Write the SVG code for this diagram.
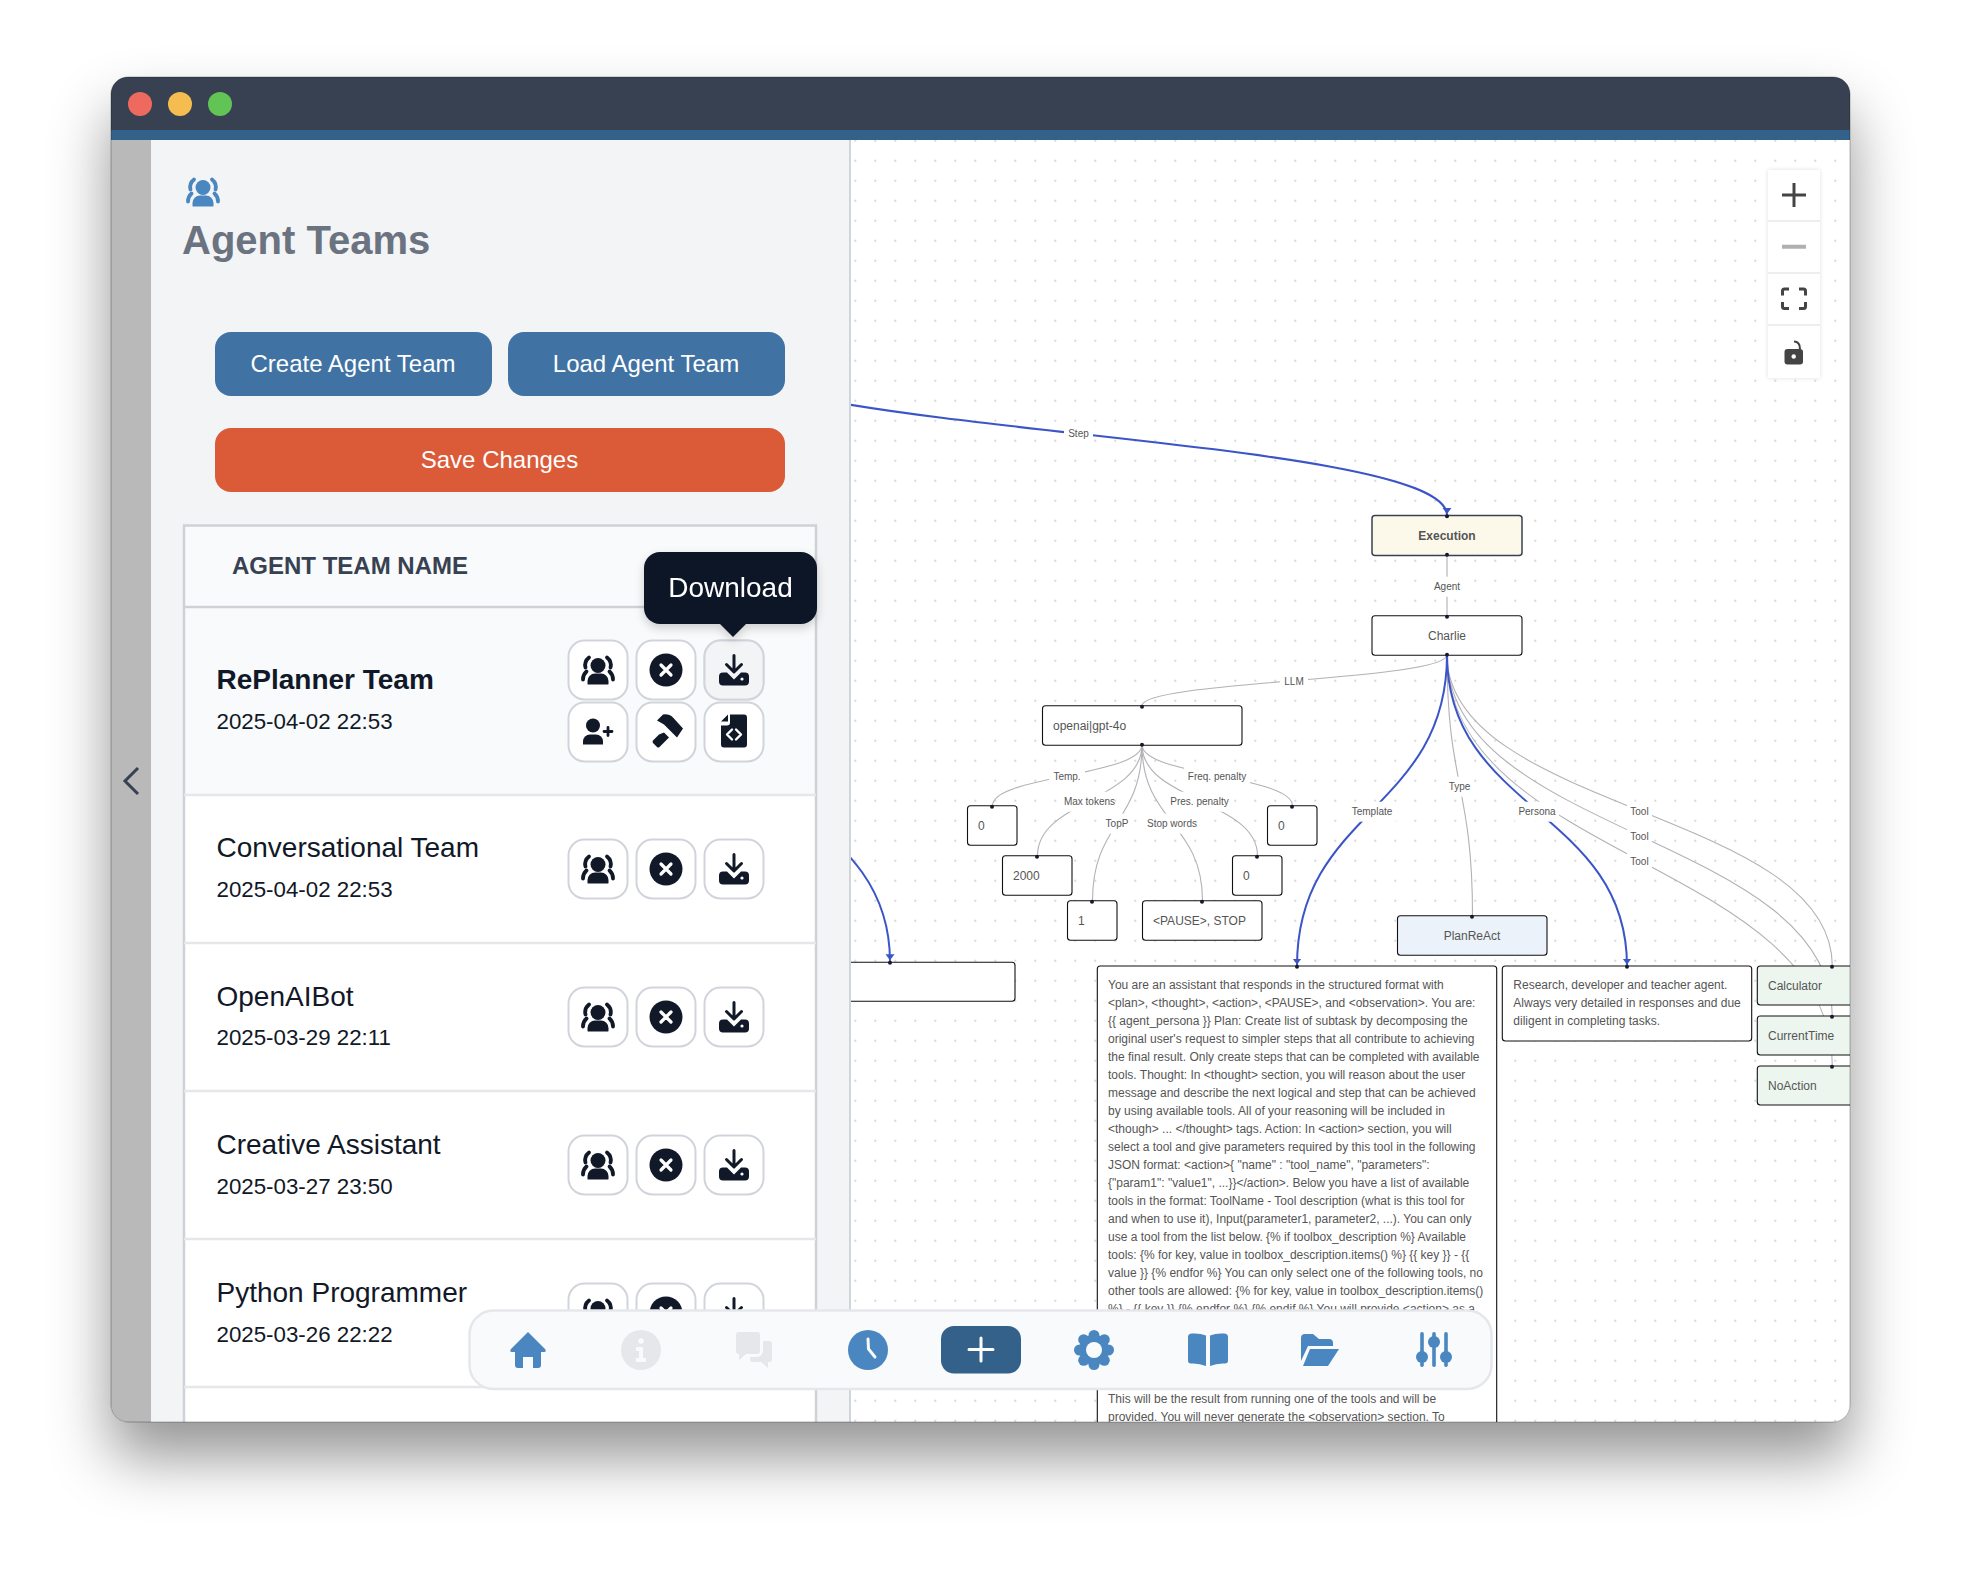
<svg xmlns="http://www.w3.org/2000/svg" width="1962" height="1570" viewBox="0 0 1962 1570">
<style>
text{font-family:"Liberation Sans",Arial,sans-serif}
.btn{stroke:#d1d5db;stroke-width:2;fill:#fff}
.name{font-size:28px;fill:#111827}
.date{font-size:22.3px;fill:#111827}
.cta{font-size:24px;fill:#fff;text-anchor:middle}
.n{fill:#fff;stroke:#111;stroke-width:1.1}
.nt{font-size:12px;fill:#555}
.c{text-anchor:middle}
.h{fill:#1a192b}
.e{fill:none;stroke:#b1b1b7;stroke-width:1.1}
.eb{fill:none;stroke:#3b55c8;stroke-width:2;marker-end:url(#arrow)}
.lr{fill:#fff}
.lt{font-size:10px;fill:#555;text-anchor:middle}
.tx{font-size:12px;fill:#555}
.ic{fill:#4a86bf}
.ctl{fill:#fff}
</style>
<defs>
<filter id="winShadow" x="-15%" y="-15%" width="130%" height="130%"><feDropShadow dx="0" dy="35" stdDeviation="30" flood-color="#000" flood-opacity="0.42"/></filter>
<filter id="softShadow" x="-20%" y="-20%" width="140%" height="150%"><feDropShadow dx="0" dy="4" stdDeviation="5" flood-color="#000" flood-opacity="0.18"/></filter>
<filter id="ctlShadow" x="-20%" y="-10%" width="140%" height="120%"><feDropShadow dx="0" dy="0" stdDeviation="2" flood-color="#000" flood-opacity="0.12"/></filter>
<clipPath id="winClip"><rect x="111" y="77" width="1739" height="1345" rx="17"/></clipPath>
<clipPath id="canvasClip"><rect x="851" y="140" width="999" height="1282"/></clipPath>
<pattern id="dots" x="15.3" y="0.7" width="20" height="20" patternUnits="userSpaceOnUse"><circle cx="0" cy="0" r="0.8" fill="#a8a8a8"/><circle cx="20" cy="0" r="0.8" fill="#a8a8a8"/><circle cx="0" cy="20" r="0.8" fill="#a8a8a8"/><circle cx="20" cy="20" r="0.8" fill="#a8a8a8"/></pattern>
<marker id="arrow" markerWidth="12" markerHeight="12" refX="7.5" refY="5" orient="auto" markerUnits="userSpaceOnUse"><path d="M0,0.5 L6,5 L0,9.5z" fill="#3b55c8"/></marker>
<g id="i-team">
<circle cx="0" cy="-5" r="7.5"/>
<path d="M-10.500,13.500 v-3 a7.500,7.500 0 0 1 7.500,-7.500 h6 a7.500,7.500 0 0 1 7.500,7.500 v3 a1,1 0 0 1 -1,0.500 h-19 a1,1 0 0 1 -1,-0.500z"/>
<path d="M-9,-13 Q-14,-9 -12.500,-3 M9,-13 Q14,-9 12.500,-3 M-11.500,1 Q-15,4 -15,9 M11.500,1 Q15,4 15,9" fill="none" stroke="currentColor" stroke-width="3.800" stroke-linecap="round"/>
</g>
<g id="i-close"><circle r="16.5" fill="#111827"/><path d="M-5,-5 L5,5 M5,-5 L-5,5" stroke="#fff" stroke-width="3.2" stroke-linecap="round"/></g>
<g id="i-down" fill="#111827">
<path d="M0,-15 V1 M-7.5,-6 L0,1.5 L7.5,-6" fill="none" stroke="#111827" stroke-width="3" stroke-linecap="round" stroke-linejoin="round"/>
<path d="M-11,2 h4 l7,7 l7,-7 h4 a4,4 0 0 1 4,4 v5 a4,4 0 0 1 -4,4 h-22 a4,4 0 0 1 -4,-4 v-5 a4,4 0 0 1 4,-4z"/>
<circle cx="8" cy="8.5" r="1.6" fill="#fff"/>
</g>
<g id="i-userplus" fill="#111827"><circle cx="-5" cy="-6" r="7"/><path d="M-15,13 v-3 a7,7 0 0 1 7,-7 h6 a7,7 0 0 1 7,7 v3 z"/><path d="M10,-4 v8 M6,0 h8" stroke="#111827" stroke-width="2.8" stroke-linecap="round"/></g>
<g id="i-hammer" fill="#111827"><path d="M-9,-11 L-3,-17 Q3,-18 7,-14 L17,-3 L11,6 L-2,-7 Z"/><path d="M-7,3 L-13,9 Q-14,10.5 -13,11.5 L-9,15.5 Q-8,16.5 -6.5,15.5 L3,6 L-2,1 Z"/></g>
<g id="i-file" fill="#111827"><path d="M-4,-17 h14 a3,3 0 0 1 3,3 v27 a3,3 0 0 1 -3,3 h-20 a3,3 0 0 1 -3,-3 v-19 h6 a3,3 0 0 0 3,-3 z"/><path d="M-6,-17 v7 h-7 z"/><path d="M-2,-2 L-7,3 L-2,8 M2,-2 L7,3 L2,8" fill="none" stroke="#fff" stroke-width="2.4" stroke-linecap="round" stroke-linejoin="round"/></g>
<g id="rowbtns">
<rect class="btn" x="-29.5" y="0" width="59" height="59" rx="16"/><rect class="btn" x="38.5" y="0" width="59" height="59" rx="16"/><rect class="btn" x="106.5" y="0" width="59" height="59" rx="16"/>
<use href="#i-team" y="30" fill="#111827" color="#111827"/><use href="#i-close" x="68" y="29.5"/><use href="#i-down" x="136" y="30"/>
</g>
</defs>
<rect width="1962" height="1570" fill="#fff"/>
<rect id="window-shadow" x="111" y="77" width="1739" height="1345" rx="17" fill="#fff" filter="url(#winShadow)"/>
<g clip-path="url(#winClip)">
<g id="titlebar">
<rect x="111" y="77" width="1739" height="53" fill="#374151"/>
<rect x="111" y="130" width="1739" height="10" fill="#336189"/>
<circle cx="140" cy="104" r="12" fill="#ee6a5f"/><circle cx="180" cy="104" r="12" fill="#f5bd4f"/><circle cx="220" cy="104" r="12" fill="#61c454"/>
</g>
<rect x="851" y="140" width="999" height="1282" fill="#fff"/>
<rect x="851" y="140" width="999" height="1282" fill="url(#dots)"/>
<g clip-path="url(#canvasClip)">
<g transform="translate(0,0.7)">
<g id="connectors">
<path class="eb" d="M710,351 C710,433 1447,433 1447,514.7"/>
<path class="eb" d="M710,654 C710,810 890,810 890,961"/>
<path class="e" d="M1447,555 L1447,615"/>
<path class="e" d="M1447,654 C1447,680 1142,680 1142,705"/>
<path class="e" d="M1142,744 C1142,775 992.5,775 992.5,805"/>
<path class="e" d="M1142,744 C1142,800 1037.5,800 1037.5,855"/>
<path class="e" d="M1142,744 C1142,822 1092.5,822 1092.5,900"/>
<path class="e" d="M1142,744 C1142,822 1202.5,822 1202.5,900"/>
<path class="e" d="M1142,744 C1142,800 1257.5,800 1257.5,855"/>
<path class="e" d="M1142,744 C1142,775 1292.5,775 1292.5,805"/>
<path class="e" d="M1447,654 C1447,785 1472.5,785 1472.5,915"/>
<path class="e" d="M1447,654 C1447,810 1832.3,810 1832.3,965.3"/>
<path class="e" d="M1447,654 C1447,835 1832.3,835 1832.3,1015.3"/>
<path class="e" d="M1447,654 C1447,860 1832.3,860 1832.3,1065.3"/>
<path class="eb" d="M1447,654 C1447,810 1297,810 1297,965.3"/>
<path class="eb" d="M1447,654 C1447,810 1627,810 1627,965.3"/>
</g>
<g id="edge-labels">
<rect class="lr" x="1064" y="423" width="29" height="20"/><text class="lt" x="1078.5" y="436.5">Step</text>
<rect class="lr" x="1430" y="576" width="34" height="20"/><text class="lt" x="1447" y="589.5">Agent</text>
<rect class="lr" x="1280" y="671" width="28" height="20"/><text class="lt" x="1294" y="684">LLM</text>
<rect class="lr" x="1049" y="766" width="36" height="20"/><text class="lt" x="1067" y="779">Temp.</text>
<rect class="lr" x="1184" y="766" width="66" height="20"/><text class="lt" x="1217" y="779">Freq. penalty</text>
<rect class="lr" x="1064" y="791" width="51" height="20"/><text class="lt" x="1089.500" y="804">Max tokens</text>
<rect class="lr" x="1170" y="791" width="59" height="20"/><text class="lt" x="1199.500" y="804">Pres. penalty</text>
<rect class="lr" x="1103" y="813" width="28" height="20"/><text class="lt" x="1117" y="826">TopP</text>
<rect class="lr" x="1145" y="813" width="54" height="20"/><text class="lt" x="1172" y="826">Stop words</text>
<rect class="lr" x="1348" y="801" width="48" height="20"/><text class="lt" x="1372" y="814">Template</text>
<rect class="lr" x="1447" y="776" width="26" height="20"/><text class="lt" x="1459.500" y="789.500">Type</text>
<rect class="lr" x="1515" y="801" width="44" height="20"/><text class="lt" x="1537" y="814">Persona</text>
<rect class="lr" x="1627" y="801" width="25" height="20"/><text class="lt" x="1639.500" y="814">Tool</text>
<rect class="lr" x="1627" y="826" width="25" height="20"/><text class="lt" x="1639.500" y="839">Tool</text>
<rect class="lr" x="1627" y="851" width="25" height="20"/><text class="lt" x="1639.500" y="864">Tool</text>
</g>
<g id="node-execution"><rect x="1372" y="514.700" width="150" height="40" rx="3" fill="#fdf9ea" stroke="#374151" stroke-width="1.500"/><text class="nt c" x="1447" y="539" font-weight="700">Execution</text><circle class="h" cx="1447" cy="515.500" r="2"/><circle class="h" cx="1447" cy="554" r="2"/></g>
<g id="node-charlie"><rect class="n" x="1372" y="615" width="150" height="39.500" rx="3"/><text class="nt c" x="1447" y="639">Charlie</text><circle class="h" cx="1447" cy="616" r="2"/><circle class="h" cx="1447" cy="654" r="2"/></g>
<g id="node-llm"><rect class="n" x="1042.500" y="705" width="199.500" height="39.500" rx="3"/><text class="nt" x="1053" y="729">openai|gpt-4o</text><circle class="h" cx="1142" cy="706" r="2"/><circle class="h" cx="1142" cy="744" r="2"/></g>
<g id="node-temp"><rect class="n" x="967.500" y="805" width="49.500" height="39.500" rx="3"/><text class="nt" x="978" y="829">0</text><circle class="h" cx="992" cy="806" r="2"/></g>
<g id="node-maxtokens"><rect class="n" x="1002.500" y="855" width="69.500" height="39.500" rx="3"/><text class="nt" x="1013" y="879">2000</text><circle class="h" cx="1037" cy="856" r="2"/></g>
<g id="node-topp"><rect class="n" x="1067.500" y="900" width="49.500" height="39.500" rx="3"/><text class="nt" x="1078" y="924">1</text><circle class="h" cx="1092" cy="901" r="2"/></g>
<g id="node-stopwords"><rect class="n" x="1142.500" y="900" width="119.500" height="39.500" rx="3"/><text class="nt" x="1153" y="924">&lt;PAUSE&gt;, STOP</text><circle class="h" cx="1202" cy="901" r="2"/></g>
<g id="node-prespenalty"><rect class="n" x="1232.500" y="855" width="49.500" height="39.500" rx="3"/><text class="nt" x="1243" y="879">0</text><circle class="h" cx="1257" cy="856" r="2"/></g>
<g id="node-freqpenalty"><rect class="n" x="1267.500" y="805" width="49.500" height="39.500" rx="3"/><text class="nt" x="1278" y="829">0</text><circle class="h" cx="1292" cy="806" r="2"/></g>
<g id="node-type"><rect x="1397.500" y="915" width="149.500" height="39.500" rx="3" fill="#ebf2fa" stroke="#111" stroke-width="1.100"/><text class="nt c" x="1472" y="939">PlanReAct</text><circle class="h" cx="1472" cy="916" r="2"/></g>
<g id="node-offscreen"><rect class="n" x="765" y="961.500" width="250" height="39" rx="3"/><circle class="h" cx="890" cy="962" r="2"/></g>
<g id="node-template"><rect class="n" x="1097.300" y="965.300" width="399.400" height="500" rx="3"/>
<text class="tx" x="1108" y="988.700">You are an assistant that responds in the structured format with</text>
<text class="tx" x="1108" y="1006.700">&lt;plan&gt;, &lt;thought&gt;, &lt;action&gt;, &lt;PAUSE&gt;, and &lt;observation&gt;. You are:</text>
<text class="tx" x="1108" y="1024.700">{{ agent_persona }} Plan: Create list of subtask by decomposing the</text>
<text class="tx" x="1108" y="1042.700">original user's request to simpler steps that all contribute to achieving</text>
<text class="tx" x="1108" y="1060.700">the final result. Only create steps that can be completed with available</text>
<text class="tx" x="1108" y="1078.700">tools. Thought: In &lt;thought&gt; section, you will reason about the user</text>
<text class="tx" x="1108" y="1096.700">message and describe the next logical and step that can be achieved</text>
<text class="tx" x="1108" y="1114.700">by using available tools. All of your reasoning will be included in</text>
<text class="tx" x="1108" y="1132.700">&lt;though&gt; ... &lt;/thought&gt; tags. Action: In &lt;action&gt; section, you will</text>
<text class="tx" x="1108" y="1150.700">select a tool and give parameters required by this tool in the following</text>
<text class="tx" x="1108" y="1168.700">JSON format: &lt;action&gt;{ "name" : "tool_name", "parameters":</text>
<text class="tx" x="1108" y="1186.700">{"param1": "value1", ...}}&lt;/action&gt;. Below you have a list of available</text>
<text class="tx" x="1108" y="1204.700">tools in the format: ToolName - Tool description (what is this tool for</text>
<text class="tx" x="1108" y="1222.700">and when to use it), Input(parameter1, parameter2, ...). You can only</text>
<text class="tx" x="1108" y="1240.700">use a tool from the list below. {% if toolbox_description %} Available</text>
<text class="tx" x="1108" y="1258.700">tools: {% for key, value in toolbox_description.items() %} {{ key }} - {{</text>
<text class="tx" x="1108" y="1276.700">value }} {% endfor %} You can only select one of the following tools, no</text>
<text class="tx" x="1108" y="1294.700">other tools are allowed: {% for key, value in toolbox_description.items()</text>
<text class="tx" x="1108" y="1312.700">%} - {{ key }} {% endfor %} {% endif %} You will provide &lt;action&gt; as a</text>
<text class="tx" x="1108" y="1402.700">This will be the result from running one of the tools and will be</text>
<text class="tx" x="1108" y="1420.700">provided. You will never generate the &lt;observation&gt; section. To</text>
<circle class="h" cx="1297" cy="966" r="2"/></g>
<g id="node-persona"><rect class="n" x="1502.300" y="965.300" width="249.400" height="75" rx="3"/>
<text class="tx" x="1513.300" y="988.700">Research, developer and teacher agent.</text>
<text class="tx" x="1513.300" y="1006.700">Always very detailed in responses and due</text>
<text class="tx" x="1513.300" y="1024.700">diligent in completing tasks.</text>
<circle class="h" cx="1627" cy="966" r="2"/></g>
<g id="node-calculator"><rect x="1757.300" y="965.300" width="150" height="39" rx="3" fill="#ecf5ee" stroke="#111" stroke-width="1.100"/><text class="nt" x="1768" y="989">Calculator</text><circle class="h" cx="1832" cy="966" r="2"/></g>
<g id="node-currenttime"><rect x="1757.300" y="1015.300" width="150" height="39" rx="3" fill="#ecf5ee" stroke="#111" stroke-width="1.100"/><text class="nt" x="1768" y="1039">CurrentTime</text><circle class="h" cx="1832" cy="1016" r="2"/></g>
<g id="node-noaction"><rect x="1757.300" y="1065.300" width="150" height="39" rx="3" fill="#ecf5ee" stroke="#111" stroke-width="1.100"/><text class="nt" x="1768" y="1089">NoAction</text><circle class="h" cx="1832" cy="1066" r="2"/></g>
</g>
</g>
<g id="canvas-controls">
<g filter="url(#ctlShadow)"><rect class="ctl" x="1768" y="170" width="52" height="208"/></g>
<path d="M1768,221 h52 M1768,273 h52 M1768,325 h52" stroke="#eee" stroke-width="2"/>
<path d="M1782,195 h24 M1794,183 v24" stroke="#444" stroke-width="3"/>
<path d="M1782,246.700 h24" stroke="#b0b0b0" stroke-width="4"/>
<path d="M1789,289 h-4.500 a2,2 0 0 0 -2,2 v4.500 M1799,289 h4.500 a2,2 0 0 1 2,2 v4.500 M1789,308.500 h-4.500 a2,2 0 0 1 -2,-2 v-4.500 M1799,308.500 h4.500 a2,2 0 0 0 2,-2 v-4.500" fill="none" stroke="#444" stroke-width="3"/>
<rect x="1784.500" y="349" width="18.500" height="15.500" rx="3" fill="#444"/><circle cx="1793.700" cy="356.500" r="2.200" fill="#fff"/>
<path d="M1794,341.500 Q1800,341.500 1800,349" fill="none" stroke="#444" stroke-width="2"/>
</g>
<g id="sidebar">
<rect x="151" y="140" width="699" height="1282" fill="#f3f4f6"/>
<rect x="849" y="140" width="2" height="1282" fill="#d1d5db"/>
<rect x="111" y="140" width="40" height="1282" fill="#b9b9b9"/>
<path d="M138,768 L125,781 L138,794" fill="none" stroke="#374151" stroke-width="3"/>
<use href="#i-team" x="203" y="192.500" fill="#4a86bf" color="#4a86bf"/>
<text x="182" y="254" font-size="40" font-weight="700" fill="#6b7280">Agent Teams</text>
<rect x="215" y="332" width="277" height="64" rx="16" fill="#4073a3"/><text class="cta" x="353" y="372">Create Agent Team</text>
<rect x="508" y="332" width="277" height="64" rx="16" fill="#4073a3"/><text class="cta" x="646" y="372">Load Agent Team</text>
<rect x="215" y="428" width="570" height="64" rx="16" fill="#db5a37"/><text class="cta" x="499.500" y="468">Save Changes</text>
</g>
<g id="table">
<rect x="184" y="525" width="632" height="82" fill="#f9fafb"/>
<rect x="184" y="607" width="632" height="188" fill="#f9fafb"/>
<rect x="184" y="795" width="632" height="640" fill="#fff"/>
<path d="M184,1440 V525.500 H816 V1440" fill="none" stroke="#cfd1d6" stroke-width="2.500"/>
<path d="M184,607 H816" stroke="#cfd1d6" stroke-width="2.500"/>
<path d="M184,795 H816 M184,943 H816 M184,1091 H816 M184,1239 H816 M184,1387 H816" stroke="#e5e7eb" stroke-width="2.500"/>
<text x="232" y="574" font-size="24" font-weight="700" fill="#374151">AGENT TEAM NAME</text>
</g>
<g id="row-replanner">
<text class="name" x="216.500" y="689" font-weight="700">RePlanner Team</text><text class="date" x="216.500" y="729">2025-04-02 22:53</text>
<use href="#rowbtns" x="598" y="640.500"/>
<rect x="704.500" y="640.500" width="59" height="59" rx="16" fill="#f3f4f6" stroke="#d1d5db" stroke-width="2"/><use href="#i-down" x="734" y="670.500"/>
<rect class="btn" x="568.500" y="702.500" width="59" height="59" rx="16"/><rect class="btn" x="636.500" y="702.500" width="59" height="59" rx="16"/><rect class="btn" x="704.500" y="702.500" width="59" height="59" rx="16"/>
<use href="#i-userplus" x="598" y="731.500"/><use href="#i-hammer" x="666" y="731.500"/><use href="#i-file" x="734" y="731.500"/>
</g>
<g id="row-conversational"><text class="name" x="216.500" y="857">Conversational Team</text><text class="date" x="216.500" y="897">2025-04-02 22:53</text><use href="#rowbtns" x="598" y="839.500"/></g>
<g id="row-openaibot"><text class="name" x="216.500" y="1005.500">OpenAIBot</text><text class="date" x="216.500" y="1045">2025-03-29 22:11</text><use href="#rowbtns" x="598" y="987.500"/></g>
<g id="row-creative"><text class="name" x="216.500" y="1153.500">Creative Assistant</text><text class="date" x="216.500" y="1193.500">2025-03-27 23:50</text><use href="#rowbtns" x="598" y="1135.500"/></g>
<g id="row-python"><text class="name" x="216.500" y="1301.500">Python Programmer</text><text class="date" x="216.500" y="1341.500">2025-03-26 22:22</text><use href="#rowbtns" x="598" y="1283.500"/></g>
<g id="tooltip" filter="url(#softShadow)"><rect x="644" y="552" width="173" height="72" rx="16" fill="#111827"/><path d="M719,623 H747 L733,637 Z" fill="#111827"/><text x="730.500" y="597" font-size="28" fill="#fff" text-anchor="middle">Download</text></g>
<g id="dock">
<rect x="469.500" y="1310.500" width="1022" height="78.500" rx="24" fill="#f9fafb" stroke="#e5e7eb" stroke-width="2.500"/>
<g id="dock-home" class="ic"><path d="M528,1332 L545,1349 Q547,1352 544,1352 H541 V1365 Q541,1368 538,1368 H533 V1357 H523 V1368 H518 Q515,1368 515,1365 V1352 H512 Q509,1352 511,1349 Z"/></g>
<g id="dock-info"><circle cx="641" cy="1350" r="20" fill="#e5e7eb"/><circle cx="641" cy="1341" r="2.800" fill="#f9fafb"/><path d="M636,1347 H643 V1358 H646 V1362 H636 V1358 H639 V1351 H636Z" fill="#f9fafb"/></g>
<g id="dock-chat" fill="#e5e7eb"><path d="M739,1332 H757 a3,3 0 0 1 3,3 V1351 a3,3 0 0 1 -3,3 H746 L739,1360 V1354 a3,3 0 0 1 -3,-3 V1335 a3,3 0 0 1 3,-3Z"/><path d="M763,1341 H769 a3,3 0 0 1 3,3 V1359 a3,3 0 0 1 -3,3 H768 V1368 L761,1362 H753 a3,3 0 0 1 -3,-3 V1357 H757 a6,6 0 0 0 6,-6Z"/></g>
<g id="dock-clock"><circle cx="868" cy="1350" r="20" class="ic"/><path d="M868,1339 L868.500,1349 L875,1357" fill="none" stroke="#f9fafb" stroke-width="3" stroke-linecap="round"/></g>
<g id="dock-add"><rect x="941" y="1326" width="80" height="47.500" rx="13" fill="#336189"/><path d="M969,1349.500 H993 M981,1338 V1361" stroke="#fff" stroke-width="3" stroke-linecap="round"/></g>
<g id="dock-settings"><g class="ic"><circle cx="1094" cy="1350" r="15"/><circle cx="1094" cy="1335.500" r="5.500"/><circle cx="1094" cy="1364.500" r="5.500"/><circle cx="1108.500" cy="1350" r="5.500"/><circle cx="1079.500" cy="1350" r="5.500"/><circle cx="1104.300" cy="1339.700" r="5.500"/><circle cx="1083.700" cy="1339.700" r="5.500"/><circle cx="1104.300" cy="1360.300" r="5.500"/><circle cx="1083.700" cy="1360.300" r="5.500"/></g><circle cx="1094" cy="1350" r="8" fill="#f9fafb"/></g>
<g id="dock-book" class="ic"><path d="M1192,1333.500 Q1200,1333 1206,1335.500 V1366 Q1199,1363 1191,1363.500 Q1188,1363.500 1188,1360.500 V1337 Q1188,1333.800 1192,1333.500Z"/><path d="M1224,1333.500 Q1216,1333 1210,1335.500 V1366 Q1217,1363 1225,1363.500 Q1228,1363.500 1228,1360.500 V1337 Q1228,1333.800 1224,1333.500Z"/></g>
<g id="dock-folder" class="ic"><path d="M1301,1338 a4,4 0 0 1 4,-4 h8 l6,5 h10 a4,4 0 0 1 4,4 v3 h-25 l-7,15 Z"/><path d="M1310,1349 H1339 L1328,1366 H1303 Z"/></g>
<g id="dock-sliders" class="ic"><rect x="1420.200" y="1332" width="3.600" height="35" rx="1.800"/><rect x="1432.200" y="1332" width="3.600" height="35" rx="1.800"/><rect x="1444.200" y="1332" width="3.600" height="35" rx="1.800"/><circle cx="1422" cy="1357" r="6"/><circle cx="1434" cy="1342" r="6"/><circle cx="1446" cy="1357" r="6"/></g>
</g>
</g>
<rect x="111" y="77" width="1739" height="1345" rx="17" fill="none" stroke="#000" stroke-opacity="0.28" stroke-width="1"/>
</svg>
